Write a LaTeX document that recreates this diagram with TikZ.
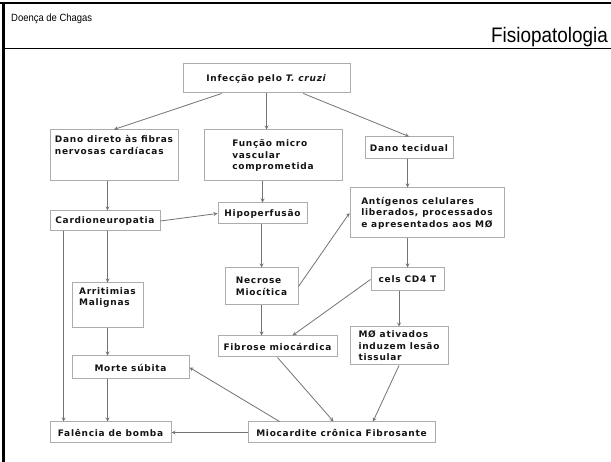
\documentclass[tikz,border=0pt]{standalone}
\usepackage{fontspec}
\usepackage{tikz}
\usetikzlibrary{arrows}
\newfontfamily\boxfont[LetterSpace=8]{DejaVu Sans}
\newfontfamily\narrowfont[FakeStretch=0.9]{Liberation Sans}
\tikzstyle{box} = [rectangle, draw=gray!65, line width=1pt, fill=white, text=black!92, align=left, inner sep=3pt, font=\boxfont\bfseries\fontsize{9}{11.5}\selectfont]
\tikzstyle{arrow} = [draw=black!55, line width=0.8pt, ->, >=stealth]
\begin{document}
\begin{tikzpicture}[x=1pt, y=1pt, node distance = 70pt]
    \useasboundingbox (0,0) rectangle (611,-462);
    % frame
    \draw [line width=2.2pt] (0,-3) -- (611,-3);
    \draw [line width=2.6pt] (3.5,-3) -- (3.5,-462);
    \draw [line width=0.8pt] (3.5,-48) -- (611,-48);
    \node (chagas) [anchor=base west, inner sep=0pt] at (11,-22) {\narrowfont\fontsize{10.5}{12}\selectfont Doença de Chagas};
    \node (fisio) [anchor=base east, inner sep=0pt] at (608,-43) {\narrowfont\fontsize{21}{24}\selectfont Fisiopatologia};
    % boxes
    \node (infec) [box, minimum width=167pt, minimum height=29pt] at (266.5,-78.5) {Infecção pelo \textit{T. cruzi}};
    \node (funcao) [box, below of=infec, xshift=6.5pt, yshift=-7pt, minimum width=138pt, minimum height=51pt]{Função micro\\vascular\\comprometida};
    \node (dano) [box, left of=funcao, xshift=-89pt, minimum width=128pt, minimum height=51pt]{Dano direto às fibras\\nervosas cardíacas\\[10pt]};
    \node (tecid) [box, right of=funcao, xshift=66pt, yshift=7.5pt, minimum width=88pt, minimum height=22pt]{Dano tecidual};
    \node (cardio) [box, below of=dano, xshift=-9pt, yshift=4.5pt, minimum width=110pt, minimum height=20pt]{Cardioneuropatia};
    \node (hipo) [box, below of=funcao, xshift=-10.5pt, yshift=12pt, minimum width=89pt, minimum height=21pt]{Hipoperfusão};
    \node (antig) [box, below of=tecid, xshift=18pt, yshift=5pt, minimum width=154pt, minimum height=50pt]{Antígenos celulares\\liberados, processados\\e apresentados aos MØ};
    \node (necrose) [box, below of=hipo, xshift=-1pt, yshift=-3pt, minimum width=73pt, minimum height=37pt]{Necrose\\Miocítica};
    \node (arrit) [box, below of=cardio, xshift=2.5pt, yshift=-14.5pt, minimum width=71pt, minimum height=45pt]{Arritimias\\Malignas\\[6pt]};
    \node (cd4) [box, below of=antig, xshift=-19.5pt, yshift=3.5pt, minimum width=73pt, minimum height=23pt]{cels CD4 T};
    \node (fibrose) [box, below of=necrose, xshift=16pt, yshift=10pt, minimum width=119pt, minimum height=21pt]{Fibrose miocárdica};
    \node (mphi) [box, below of=cd4, xshift=-8.5pt, yshift=3.5pt, minimum width=98pt, minimum height=38pt]{MØ ativados\\induzem lesão\\tissular};
    \node (morte) [box, below of=arrit, xshift=23pt, yshift=8pt, minimum width=117pt, minimum height=23pt]{Morte súbita};
    \node (falencia) [box, below of=morte, xshift=-20pt, yshift=5pt, minimum width=121pt, minimum height=21pt]{Falência de bomba};
    \node (mioc) [box, below of=fibrose, xshift=64pt, yshift=-16pt, minimum width=187pt, minimum height=21pt]{Miocardite crônica Fibrosante};
    % connectors
    \draw [arrow] (infec) -- (dano.north);
    \draw [arrow] (infec.south) -- (infec.south |- funcao.north);
    \draw [arrow] (infec) -- (tecid.north);
    \draw [arrow] (dano.south -| arrit) -- (arrit |- cardio.north);
    \draw [arrow] (funcao.south -| hipo) -- (hipo.north);
    \draw [arrow] (cardio.east) -- (hipo.west);
    \draw [arrow] (tecid.south -| cd4) -- (cd4 |- antig.north);
    \draw [arrow] (necrose.east) -- (antig.west);
    \draw [arrow] (antig.south -| cd4) -- (cd4.north);
    \draw [arrow] (hipo.south -| necrose) -- (necrose.north);
    \draw [arrow] (cardio.south -| arrit) -- (arrit.north);
    \draw [arrow] ([xshift=14pt]cardio.south west) -- ([xshift=14pt]cardio.south west |- falencia.north);
    \draw [arrow] (necrose.south) -- (necrose.south |- fibrose.north);
    \draw [arrow] (cd4.west) -- ([xshift=15pt]fibrose.north);
    \draw [arrow] (cd4.south -| mphi) -- (mphi.north);
    \draw [arrow] (arrit.south) -- (arrit.south |- morte.north);
    \draw [arrow] (arrit |- morte.south) -- (arrit |- falencia.north);
    \draw [arrow] ([xshift=32pt]mioc.north west) -- (morte.east);
    \draw [arrow] (mioc.west) -- (falencia.east);
    \draw [arrow] (fibrose.south) -- ([xshift=-8pt]mioc.north);
    \draw [arrow] (mphi.south) -- ([xshift=31.5pt]mioc.north);
\end{tikzpicture}
\end{document}
